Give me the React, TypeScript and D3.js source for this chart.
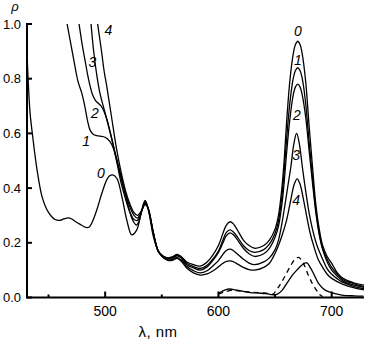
import React from 'react';
import * as d3 from 'd3';

const W = 366;
const H = 344;

const xDomain: [number, number] = [431, 728.5];
const yDomain: [number, number] = [0, 1];
const yTicks = [0, 0.2, 0.4, 0.6, 0.8, 1.0];
const xMajorTicks = [500, 600, 700];
const xMinorTicks = [450, 550, 650];

type P = [number, number];

const curve0: P[] = [
  [431.0, 0.894], [432.2, 0.78], [433.7, 0.675], [436.4, 0.576], [439.9, 0.466], [444.4, 0.367], [449.7, 0.313],
  [455.8, 0.285], [460.2, 0.282], [464, 0.288], [467.3, 0.291], [470.5, 0.287], [474, 0.277], [479, 0.265],
  [483, 0.256], [486, 0.258], [489, 0.28], [492.6, 0.32], [497, 0.38], [501.4, 0.43], [504, 0.445], [506.7, 0.448],
  [510.3, 0.436], [514.7, 0.37], [519.1, 0.283], [523.5, 0.229], [527.9, 0.247], [532.3, 0.32], [535.3, 0.355],
  [538.2, 0.32], [542.6, 0.222], [547, 0.17], [551, 0.152], [555.8, 0.145], [560, 0.15], [563.3, 0.158], [567, 0.15],
  [572, 0.13], [578, 0.12], [584, 0.115], [590, 0.13], [595, 0.155], [600, 0.19], [604, 0.235], [607, 0.265],
  [610.3, 0.277], [613, 0.27], [617, 0.245], [622, 0.21], [627, 0.19], [632, 0.18], [640, 0.19], [645, 0.21],
  [650, 0.25], [653, 0.3], [656, 0.4], [658, 0.5], [660, 0.63], [663, 0.79], [666, 0.89], [668, 0.925], [670, 0.937],
  [672, 0.925], [674, 0.89], [677, 0.79], [680, 0.63], [683, 0.48], [686, 0.34], [689, 0.25], [692, 0.19], [696, 0.15],
  [700, 0.125], [705, 0.09], [710, 0.07], [720, 0.053], [728.5, 0.045],
];

const curve1: P[] = [
  [463.5, 1.07], [466.6, 0.996], [470, 0.92], [473.4, 0.844], [476, 0.79], [479.3, 0.748], [482, 0.7], [484.5, 0.645],
  [486.7, 0.612], [489.6, 0.596], [492.5, 0.592], [495.5, 0.59], [499.9, 0.586], [504.3, 0.57], [507.3, 0.545],
  [510.3, 0.5], [513.2, 0.45], [517.6, 0.38], [521, 0.325], [524, 0.285], [527.5, 0.265], [530, 0.28], [532.5, 0.32],
  [535.3, 0.352], [538, 0.325], [542.6, 0.235], [547, 0.168], [551, 0.152], [556, 0.143], [560, 0.148], [563.3, 0.155],
  [567, 0.148], [572, 0.125], [578, 0.113], [584, 0.106], [590, 0.118], [595, 0.14], [600, 0.17], [604, 0.21],
  [607, 0.238], [610.3, 0.247], [613, 0.24], [617, 0.22], [622, 0.19], [627, 0.172], [632, 0.165], [640, 0.175],
  [645, 0.195], [650, 0.235], [653, 0.28], [656, 0.37], [658, 0.46], [660, 0.57], [663, 0.71], [666, 0.8], [668, 0.83],
  [670, 0.84], [672, 0.83], [674, 0.8], [677, 0.71], [680, 0.57], [683, 0.44], [686, 0.32], [689, 0.235], [692, 0.18],
  [696, 0.14], [700, 0.11], [705, 0.085], [710, 0.065], [720, 0.05], [728.5, 0.04],
];

const curve2: P[] = [
  [474, 1.07], [477.1, 0.996], [479.5, 0.93], [482.2, 0.868], [484.5, 0.815], [486.6, 0.775], [489, 0.74], [491.5, 0.72],
  [494, 0.71], [496.5, 0.7], [499, 0.68], [502, 0.645], [505, 0.595], [508, 0.54], [511, 0.48], [514, 0.42], [518, 0.36],
  [522, 0.31], [525.5, 0.285], [528.5, 0.282], [531, 0.3], [533, 0.325], [535.3, 0.348], [538, 0.325], [542.6, 0.235],
  [547, 0.168], [551, 0.15], [556, 0.14], [560, 0.145], [563.3, 0.152], [567, 0.145], [572, 0.12], [578, 0.108],
  [584, 0.1], [590, 0.112], [595, 0.135], [600, 0.165], [604, 0.2], [607, 0.226], [610.3, 0.236], [613, 0.23],
  [617, 0.21], [622, 0.18], [627, 0.16], [632, 0.15], [640, 0.16], [645, 0.18], [650, 0.22], [653, 0.26], [656, 0.34],
  [658, 0.42], [660, 0.52], [663, 0.65], [666, 0.74], [668, 0.77], [670, 0.78], [672, 0.77], [674, 0.74], [677, 0.66],
  [680, 0.54], [683, 0.42], [686, 0.31], [689, 0.23], [692, 0.175], [696, 0.13], [700, 0.1], [705, 0.078], [710, 0.06],
  [720, 0.045], [728.5, 0.037],
];

const curve3: P[] = [
  [486, 1.065], [487.6, 0.996], [489.7, 0.906], [492.7, 0.81], [495, 0.755], [497, 0.72], [499.3, 0.685], [501.5, 0.65],
  [506, 0.577], [510, 0.51], [514, 0.445], [518, 0.38], [522, 0.33], [525.5, 0.3], [528.5, 0.29], [531, 0.305],
  [533, 0.325], [535.3, 0.345], [538, 0.325], [542.6, 0.235], [547, 0.168], [551, 0.148], [556, 0.137], [560, 0.14],
  [563.3, 0.147], [567, 0.138], [572, 0.113], [578, 0.098], [584, 0.09], [590, 0.098], [595, 0.115], [600, 0.135],
  [604, 0.158], [607, 0.172], [610.3, 0.177], [613, 0.172], [617, 0.158], [622, 0.14], [627, 0.126], [632, 0.12],
  [640, 0.13], [645, 0.145], [650, 0.175], [653, 0.21], [656, 0.27], [658, 0.32], [661, 0.4], [664, 0.48], [666.5, 0.56],
  [669, 0.6], [671.5, 0.56], [674, 0.48], [677, 0.39], [680, 0.31], [683, 0.25], [687, 0.19], [692, 0.14], [696, 0.105],
  [700, 0.085], [705, 0.068], [710, 0.055], [720, 0.04], [728.5, 0.032],
];

const curve4: P[] = [
  [491, 1.07], [493.5, 0.996], [497, 0.894], [499, 0.83], [501.5, 0.77], [506, 0.65], [510, 0.545], [514, 0.46],
  [518, 0.39], [522, 0.34], [525.5, 0.31], [528.5, 0.3], [531, 0.31], [533, 0.325], [535.3, 0.34], [538, 0.325],
  [542.6, 0.235], [547, 0.168], [551, 0.146], [556, 0.135], [560, 0.137], [563.3, 0.143], [567, 0.133], [572, 0.108],
  [578, 0.09], [584, 0.082], [590, 0.086], [595, 0.097], [600, 0.112], [604, 0.125], [607, 0.132], [610.3, 0.134],
  [613, 0.131], [617, 0.122], [622, 0.11], [627, 0.102], [632, 0.1], [640, 0.11], [645, 0.125], [648, 0.145],
  [652, 0.18], [656, 0.225], [660, 0.28], [664, 0.36], [667, 0.415], [669.5, 0.434], [672, 0.415], [675, 0.36],
  [678, 0.295], [681, 0.235], [684, 0.19], [688, 0.14], [692, 0.11], [696, 0.085], [700, 0.07], [710, 0.048],
  [720, 0.035], [728.5, 0.028],
];

const smallSolid: P[] = [
  [599.7, 0.015], [603, 0.022], [606, 0.028], [610, 0.031], [615, 0.028], [620, 0.024], [628, 0.018], [636, 0.016],
  [642, 0.014], [648, 0.01], [652, 0.012], [656, 0.025], [660.4, 0.052], [665, 0.08], [669.2, 0.1], [674, 0.12],
  [678, 0.127], [681, 0.11], [683.9, 0.088], [688.3, 0.052], [694.2, 0.027], [700.1, 0.018], [705, 0.012],
  [710.3, 0.008], [720, 0.006], [728, 0.005],
];

const smallDashed: P[] = [
  [600, 0.012], [605, 0.02], [612, 0.026], [620, 0.023], [630, 0.019], [640, 0.017], [645, 0.014], [648, 0.012],
  [652, 0.032], [656, 0.058], [660, 0.088], [664, 0.118], [667, 0.137], [670.8, 0.147], [675, 0.125], [679, 0.085],
  [683, 0.05], [686, 0.03], [689, 0.012], [692, 0.003],
];

const solidCurves = [curve0, curve1, curve2, curve3, curve4, smallSolid];

// curve number labels, anchored in data units (wavelength, rho)
const labelTexts = ['0', '1', '2', '3', '4', '0', '1', '2', '3', '4'];
const labelLambdas = [496.2, 483.2, 490.9, 488.8, 502.9, 670.2, 670.2, 669.3, 668.5, 668.5];
const labelRhos = [0.455, 0.571, 0.675, 0.86, 0.977, 0.974, 0.867, 0.668, 0.522, 0.357];

export default function App() {
  const x = d3.scaleLinear().domain(xDomain).range([27, 364]);
  const y = d3.scaleLinear().domain(yDomain).range([297.5, 24]);
  const line = d3
    .line<P>()
    .x((d) => x(d[0]))
    .y((d) => y(d[1]))
    .curve(d3.curveCatmullRom.alpha(0.5));

  const font = 'Liberation Sans, Arial, Helvetica, sans-serif';

  return (
    <svg
      width={W}
      height={H}
      style={{ position: 'absolute', left: 0, top: 0, background: '#fff' }}
      fontFamily={font}
    >
      <defs>
        <clipPath id="plot">
          <rect x={x(xDomain[0])} y={y(1)} width={x(xDomain[1]) - x(xDomain[0])} height={y(0) - y(1)} />
        </clipPath>
      </defs>
      <g clipPath="url(#plot)" fill="none" stroke="#000" strokeWidth={1.3}>
        {solidCurves.map((c, i) => (
          <path key={i} d={line(c) || ''} />
        ))}
        <path d={line(smallDashed) || ''} strokeDasharray="5,4" />
      </g>
      {/* axes */}
      <g stroke="#000" strokeWidth={2}>
        <line x1={x(xDomain[0])} x2={x(xDomain[1])} y1={y(0)} y2={y(0)} />
        <line x1={x(xDomain[0])} x2={x(xDomain[0])} y1={y(1) - 1} y2={y(0) + 1} />
        {yTicks.map((t) => (
          <line key={t} x1={x(xDomain[0])} x2={x(xDomain[0]) + 5} y1={y(t)} y2={y(t)} />
        ))}
        {xMajorTicks.map((t) => (
          <line key={t} x1={x(t)} x2={x(t)} y1={y(0)} y2={y(0) - 6} />
        ))}
        {xMinorTicks.map((t) => (
          <line key={t} x1={x(t)} x2={x(t)} y1={y(0)} y2={y(0) - 3} />
        ))}
      </g>
      <g fontSize={13} fill="#000">
        {yTicks.map((t) => (
          <text key={t} x={x(xDomain[0]) - 6} y={y(t)} dy="0.36em" textAnchor="end">
            {t.toFixed(1)}
          </text>
        ))}
      </g>
      <g fontSize={14} fill="#000">
        {xMajorTicks.map((t) => (
          <text key={t} x={x(t)} y={316} textAnchor="middle">
            {t}
          </text>
        ))}
        <text x={158} y={337} fontSize={15} textAnchor="middle" letterSpacing={0.5}>λ, nm</text>
      </g>
      <text x={15} y={11} fontSize={13} fontStyle="italic" textAnchor="middle">ρ</text>
      <g fontSize={14} fontStyle="italic" fill="#000">
        {labelTexts.map((t, i) => (
          <text key={i} x={x(labelLambdas[i])} y={y(labelRhos[i])} dy="0.36em" textAnchor="middle">
            {t}
          </text>
        ))}
      </g>
    </svg>
  );
}
